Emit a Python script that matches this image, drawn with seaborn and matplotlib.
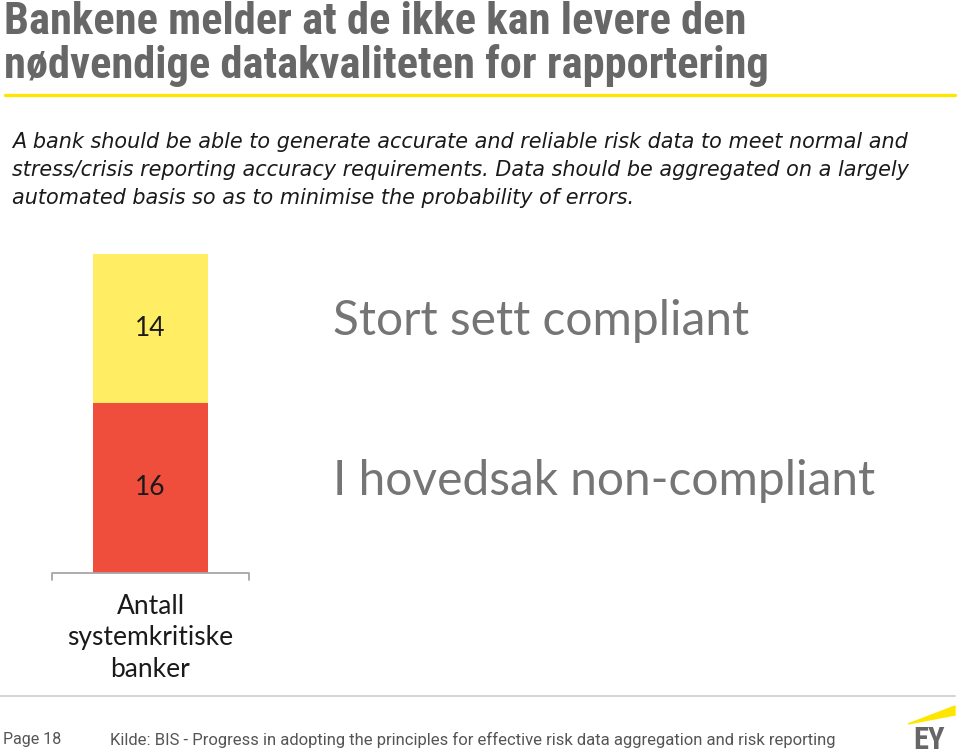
import matplotlib
matplotlib.use('Agg')
import matplotlib.pyplot as plt
import matplotlib.transforms as mtransforms
from matplotlib import font_manager
from matplotlib.lines import Line2D
from matplotlib.patches import Polygon
import seaborn as sns
import pandas as pd

# ---- data ----
categories = ['I hovedsak non-compliant', 'Stort sett compliant']
counts = [16, 14]
colors = ['#EF4E3D', '#FFED64']
group_label = 'Antall\nsystemkritiske\nbanker'

title_lines = ['Bankene melder at de ikke kan levere den',
               'nødvendige datakvaliteten for rapportering']
para_lines = ['A bank should be able to generate accurate and reliable risk data to meet normal and',
              'stress/crisis reporting accuracy requirements. Data should be aggregated on a largely',
              'automated basis so as to minimise the probability of errors.']
page_text = 'Page 18'
source_text = 'Kilde: BIS - Progress in adopting the principles for effective risk data aggregation and risk reporting'

sns.set_theme(style='white')
plt.rcParams['font.family'] = ['Lato', 'DejaVu Sans']

installed = {f.name for f in font_manager.fontManager.ttflist}


def pick(cands):
    for c in cands:
        if c in installed:
            return c
    return 'DejaVu Sans'


narrow = pick(['Liberation Sans Narrow', 'Roboto Condensed', 'Open Sans Condensed',
               'Liberation Sans', 'Roboto'])

W, H = 960, 756
fig = plt.figure(figsize=(W / 100, H / 100), dpi=100)
fig.patch.set_facecolor('white')
renderer = fig.canvas.get_renderer()


def fx(x):
    return x / W


def fy(y):
    return 1 - y / H


def fit_size(txt, target_px):
    w = txt.get_window_extent(renderer).width
    return txt.get_fontsize() * target_px / w


# ---- bar axes ----
ax = fig.add_axes([fx(52), fy(573), 197 / W, 320 / H])
cum = []
run = 0
for v in counts:
    run += v
    cum.append(run)
df = pd.DataFrame({'group': [group_label] * len(counts), 'status': categories,
                   'count': counts, 'cum': cum})
for i in reversed(range(len(categories))):
    sub = df.iloc[[i]]
    sns.barplot(data=sub, x='group', y='cum', color=colors[i], width=0.584,
                saturation=1, ax=ax, edgecolor='none', linewidth=0)
ax.set_xlim(-0.5, 0.5)
ax.set_ylim(0, sum(counts) * 1.003)
for s in ax.spines.values():
    s.set_visible(False)
ax.set_yticks([])
ax.set_ylabel('')
ax.set_xlabel('')
ax.tick_params(axis='x', length=0, pad=15)
for lbl in ax.get_xticklabels():
    lbl.set_fontsize(19)
    lbl.set_color('#1a1a1a')
    lbl.set_linespacing(1.33)
    lbl.set_verticalalignment('top')
ax.set_facecolor('none')
ax.add_line(Line2D([0, 0, 1, 1], [-0.022, 0, 0, -0.022], transform=ax.transAxes,
                   color='#A6A6A6', lw=1.3, clip_on=False))

blend = mtransforms.blended_transform_factory(fig.transFigure, ax.transData)
big = []
for i, row in df.iterrows():
    mid = row['cum'] - row['count'] / 2
    ax.text(0, mid, str(row['count']), ha='center', va='center', fontsize=19,
            color='#1a1a1a')
    t = ax.annotate(row['status'], xy=(fx(333), mid), xycoords=blend,
                    xytext=(0, -5), textcoords='offset points', ha='left',
                    va='baseline', fontsize=33, color='#757575')
    big.append(t)
s_big = fit_size(big[1], 417)
for t in big:
    t.set_fontsize(s_big)

# ---- title ----
tt = []
for j, t in enumerate(title_lines):
    tt.append(fig.text(fx(4), fy(34 + 44 * j), t, ha='left', va='baseline',
                       fontsize=30, fontweight='bold', color='#676767',
                       family=[narrow, 'DejaVu Sans']))
s_title = min(fit_size(tt[0], 854), 32)
for t in tt:
    t.set_fontsize(s_title)
fig.add_artist(Line2D([fx(5), fx(955)], [fy(95), fy(95)], color='#FFE600', lw=2.4))

# ---- paragraph ----
pp = []
for j, t in enumerate(para_lines):
    pp.append(fig.text(fx(12), fy(148 + 28 * j), t, ha='left', va='baseline',
                       fontsize=14.5, style='italic', color='#1a1a1a',
                       family=['DejaVu Sans']))
s_para = fit_size(pp[0], 894)
for t in pp:
    t.set_fontsize(s_para)

# ---- footer ----
fig.add_artist(Line2D([fx(0), fx(955)], [fy(696), fy(696)], color='#CCCCCC', lw=1.2))
fig.text(fx(3), fy(744), page_text, ha='left', va='baseline', fontsize=11.5,
         color='#555555', family=['Roboto', 'DejaVu Sans'])
fig.text(fx(110), fy(745), source_text, ha='left', va='baseline', fontsize=12,
         color='#555555', family=['Roboto', 'DejaVu Sans'])
fig.add_artist(Polygon([[fx(908), fy(724)], [fx(955), fy(706)], [fx(955), fy(715)]],
                       closed=True, color='#FFE600', transform=fig.transFigure))
fig.text(fx(929), fy(755), 'EY', ha='center', va='bottom', fontsize=22,
         fontweight='bold', color='#666666', family=[narrow, 'DejaVu Sans'])

fig.savefig('out.png', dpi=100, facecolor='white')
